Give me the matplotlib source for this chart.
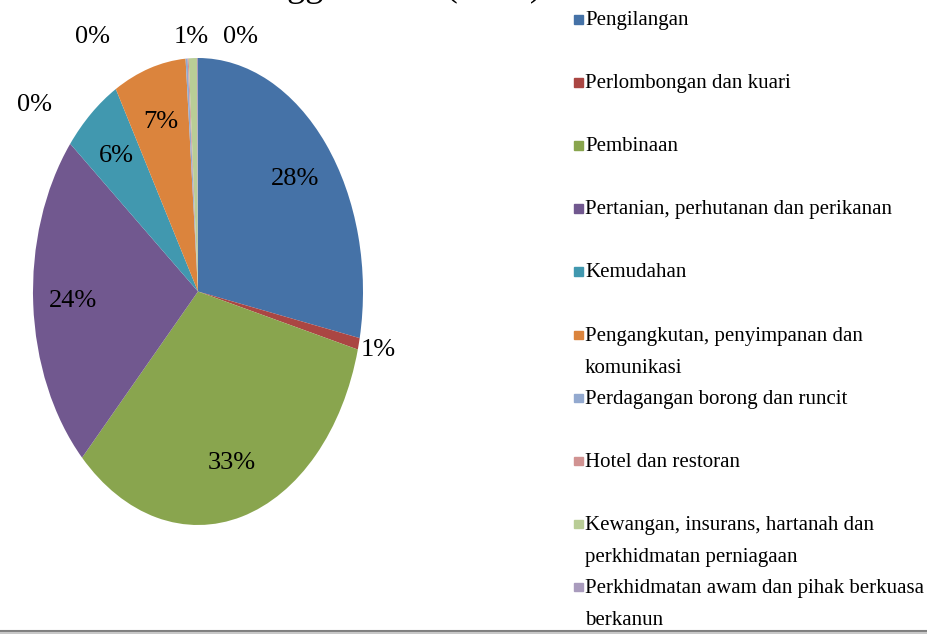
import numpy as np
import matplotlib.pyplot as plt
from matplotlib.patches import Rectangle
from matplotlib.lines import Line2D

plt.rcParams['font.family'] = ['Liberation Serif', 'DejaVu Serif']

# Data
sectors = ['Pengilangan', 'Perlombongan dan kuari', 'Pembinaan',
           'Pertanian, perhutanan dan perikanan', 'Kemudahan',
           'Pengangkutan, penyimpanan dan\nkomunikasi',
           'Perdagangan borong dan runcit', 'Hotel dan restoran',
           'Kewangan, insurans, hartanah dan\nperkhidmatan perniagaan',
           'Perkhidmatan awam dan pihak berkuasa\nberkanun']
share = [28.2, 0.8, 33.4, 23.5, 5.8, 7.1, 0.2, 0.1, 0.8, 0.1]
colors = ['#4572A7', '#AA4643', '#89A54E', '#71588F', '#4198AF',
          '#DB843D', '#93A9CF', '#D19392', '#B9CD96', '#A99BBD']

W, H = 927, 634
fig = plt.figure(figsize=(W / 100, H / 100), dpi=100)

def fx(px):
    return px / W

def fy(py):
    return 1 - py / H

# pie axes (the picture is stretched vertically -> ellipse)
ax = fig.add_axes([fx(33), fy(525), fx(330), 467 / H])
wedges, _ = ax.pie(share, colors=colors, startangle=90, counterclock=False,
                   radius=1, wedgeprops=dict(linewidth=0))
ax.set_aspect('auto')
ax.set_xlim(-1, 1)
ax.set_ylim(-1, 1)

# labels: inside ones at mid angle, small slices pushed outside
outside = {1: None,
           6: (-0.99, 0.80),
           7: (-0.64, 1.09),
           8: (-0.04, 1.09),
           9: (0.26, 1.09)}
for i, w in enumerate(wedges):
    mid = np.deg2rad((w.theta1 + w.theta2) / 2)
    txt = f'{share[i]:.0f}%'
    if i in outside and outside[i] is not None:
        x, y = outside[i]
    elif i in outside:
        x, y = 1.12 * np.cos(mid), 1.12 * np.sin(mid)
    else:
        x, y = 0.76 * np.cos(mid), 0.76 * np.sin(mid)
    ax.text(x, y, txt, ha='center', va='center', fontsize=19, color='black')

# legend drawn by hand, fixed slots
for i, lab in enumerate(sectors):
    yc = 19 + 63.1 * i
    fig.patches.append(Rectangle((fx(574), fy(yc + 4.5)), fx(8.5), 8.5 / H,
                                 transform=fig.transFigure, color=colors[i]))
    fig.text(fx(585), fy(yc - 8), lab, ha='left', va='top', fontsize=15,
             linespacing=1.95)

# title, mostly above the visible area
fig.text(fx(105), 1 + 4 / H, 'Kadar Tertinggi Sektor (2010)', ha='left',
         va='baseline', fontsize=26)

fig.add_artist(Line2D([0, 1], [fy(631), fy(631)], transform=fig.transFigure,
                      color='#7f7f7f', lw=1.5))
fig.add_artist(Line2D([0, 1], [fy(633), fy(633)], transform=fig.transFigure,
                      color='#c8c8c8', lw=1.5))

fig.savefig('out.png', dpi=100)
